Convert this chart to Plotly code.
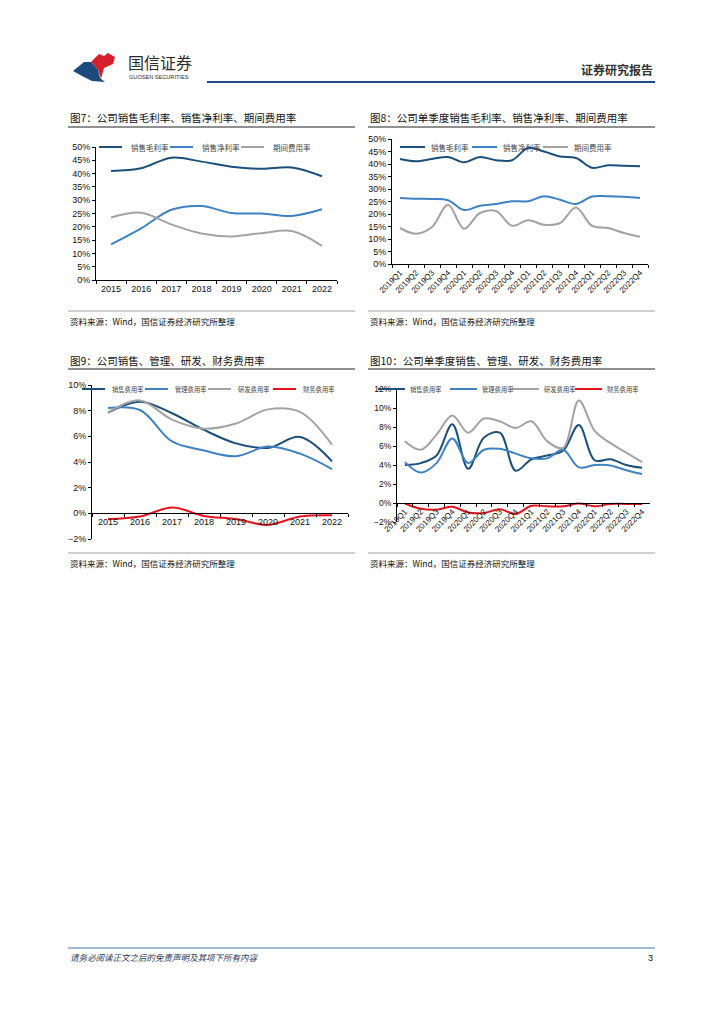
import plotly.graph_objects as go

W, H = 724, 1024
def px(x): return x / W
def py(y): return 1 - y / H

# ---------------- data ----------------
years = ["2015", "2016", "2017", "2018", "2019", "2020", "2021", "2022"]
quarters = ["2019Q1", "2019Q2", "2019Q3", "2019Q4", "2020Q1", "2020Q2", "2020Q3", "2020Q4",
            "2021Q1", "2021Q2", "2021Q3", "2021Q4", "2022Q1", "2022Q2", "2022Q3", "2022Q4"]

# Fig 7 (annual, %)
gross_margin_y = [41.0, 42.0, 46.0, 44.5, 42.6, 41.8, 42.3, 39.0]
net_margin_y = [13.4, 19.4, 26.4, 27.8, 25.2, 25.0, 24.1, 26.6]
expense_rate_y = [23.5, 25.3, 20.9, 17.5, 16.4, 17.6, 18.4, 12.8]

# Fig 8 (quarterly, %)
gross_margin_q = [42.0, 41.1, 42.0, 42.8, 40.7, 42.8, 41.5, 41.5,
                  46.4, 45.0, 43.0, 42.4, 38.5, 39.5, 39.3, 39.1]
net_margin_q = [26.4, 26.1, 26.0, 25.5, 21.6, 23.3, 24.0, 25.1,
                25.1, 27.1, 25.7, 24.0, 27.0, 27.1, 26.9, 26.4]
expense_rate_q = [14.4, 12.1, 14.8, 23.7, 14.1, 20.4, 21.2, 15.3,
                  17.5, 15.7, 16.4, 22.6, 15.3, 14.4, 12.4, 10.9]

# Fig 9 (annual, %)
selling_y = [7.85, 8.7, 7.8, 6.5, 5.45, 5.1, 5.95, 4.05]
admin_y = [8.2, 8.05, 5.6, 4.9, 4.45, 5.2, 4.65, 3.45]
rnd_y = [7.85, 8.8, 7.3, 6.6, 7.0, 8.1, 7.9, 5.35]
finance_y = [-0.45, -0.25, 0.45, -0.2, -0.45, -0.9, -0.25, -0.15]

# Fig 10 (quarterly, %)
selling_q = [4.0, 4.2, 5.0, 8.3, 3.6, 6.9, 7.4, 3.4, 4.6, 5.0, 5.5, 8.2, 4.5, 4.6, 4.0, 3.7]
admin_q = [4.3, 3.2, 4.2, 6.8, 4.2, 5.6, 5.7, 5.2, 4.7, 4.7, 5.6, 3.75, 4.0, 3.95, 3.45, 3.05]
rnd_q = [6.5, 5.6, 7.2, 9.2, 7.4, 8.9, 8.6, 7.9, 8.6, 6.5, 5.8, 10.8, 7.6, 6.3, 5.3, 4.3]
finance_q = [-0.05, -0.6, -0.7, -0.4, -1.0, -1.05, -0.65, -1.15,
             -0.3, -0.35, -0.35, -0.05, -0.35, -0.1, -0.1, -0.1]

names_a = ["销售毛利率", "销售净利率", "期间费用率"]
names_b = ["销售费用率", "管理费用率", "研发费用率", "财务费用率"]

DARK = "#1b4f7c"
MID = "#3f82c4"
GRAY = "#a3a3a3"
RED = "#e3141e"
colors_a = [DARK, MID, GRAY]
colors_b = [DARK, MID, GRAY, RED]

CJK = "Noto Sans CJK SC"
LAT = "Liberation Sans"

fig = go.Figure()

def add(x, y, name, color, xa, ya):
    fig.add_trace(go.Scatter(x=x, y=y, name=name, mode="lines",
                             line=dict(color=color, width=2, shape="spline", smoothing=1),
                             xaxis=xa, yaxis=ya, showlegend=False, hoverinfo="skip"))

for s, n, c in zip([gross_margin_y, net_margin_y, expense_rate_y], names_a, colors_a):
    add(years, s, n, c, "x", "y")
for s, n, c in zip([gross_margin_q, net_margin_q, expense_rate_q], names_a, colors_a):
    add(quarters, s, n, c, "x2", "y2")
for s, n, c in zip([selling_y, admin_y, rnd_y, finance_y], names_b, colors_b):
    add(years, s, n, c, "x3", "y3")
for s, n, c in zip([selling_q, admin_q, rnd_q, finance_q], names_b, colors_b):
    add(quarters, s, n, c, "x4", "y4")

def xax(x0, x1, n, anchor, position=None, angle=0, fs=9):
    d = dict(domain=[px(x0), px(x1)], type="category", range=[-0.5, n - 0.5],
             showline=True, linecolor="#000", linewidth=1, ticks="outside", ticklen=3,
             tickcolor="#000", tickson="boundaries", automargin=False,
             tickfont=dict(family=LAT, size=fs, color="#111"), showgrid=False,
             zeroline=False, tickangle=angle, fixedrange=True)
    if position is None:
        d["anchor"] = anchor
    else:
        d["anchor"] = "free"
        d["position"] = position
    return d

def yax(ytop, ybot, r, dtick, anchor, fs=9):
    return dict(domain=[py(ybot), py(ytop)], range=r, dtick=dtick, ticksuffix="%",
                showline=True, linecolor="#000", linewidth=1, ticks="outside", ticklen=3,
                tickcolor="#000", tickfont=dict(family=LAT, size=fs, color="#111"),
                showgrid=False, zeroline=False, anchor=anchor, fixedrange=True,
                automargin=False)

fig.update_layout(
    width=W, height=H, margin=dict(l=0, r=0, t=0, b=0, pad=0, autoexpand=False),
    paper_bgcolor="white", plot_bgcolor="white", showlegend=False,
    xaxis=xax(96, 337, 8, "y"),
    yaxis=yax(147, 280, [0, 50], 5, "x"),
    xaxis2=xax(392, 648, 16, "y2", angle=-45, fs=8),
    yaxis2=yax(139, 264, [0, 50], 5, "x2"),
    xaxis3=xax(92, 348, 8, None, position=py(513)),
    yaxis3=yax(385, 539, [-2, 10], 2, "x3"),
    xaxis4=xax(397, 650, 16, None, position=py(503), angle=-45, fs=8),
    yaxis4=yax(389, 522, [-2, 12], 2, "x4", fs=8.5),
)

ann = []
shapes = []
def text(x, y, s, size=10.5, color="#111", family=CJK, xanchor="left", yanchor="middle"):
    ann.append(dict(x=px(x), y=py(y), xref="paper", yref="paper", text=s, showarrow=False,
                    xanchor=xanchor, yanchor=yanchor, font=dict(family=family, size=size, color=color)))

def hline(x0, x1, y, color="#000", w=1):
    shapes.append(dict(type="line", xref="paper", yref="paper", x0=px(x0), x1=px(x1),
                       y0=py(y), y1=py(y), line=dict(color=color, width=w)))

# legends (symbol line + label)
def legend(starts, y, linelen, gap, names, colors, fs):
    for x0, n, c in zip(starts, names, colors):
        hline(x0, x0 + linelen, y, c, 2)
        text(x0 + linelen + gap, y, n, size=fs, color="#444")

legend([99, 170, 241], 147, 23, 7, names_a, colors_a, 7.5)
legend([400, 472, 543], 147, 25, 4, names_a, colors_a, 7.5)
legend([82, 145, 208, 273], 389, 23, 5, names_b, colors_b, 6.3)
legend([378, 450, 512, 575], 389, 27, 3, names_b, colors_b, 6.3)

text(68, 117, "图7：公司销售毛利率、销售净利率、期间费用率")
text(368, 117, "图8：公司单季度销售毛利率、销售净利率、期间费用率")
text(68, 360, "图9：公司销售、管理、研发、财务费用率")
text(368, 360, "图10：公司单季度销售、管理、研发、财务费用率")
src = "资料来源：Wind，国信证券经济研究所整理"
for x, y in [(68, 321), (368, 321), (68, 563), (368, 563)]:
    text(x, y, src, size=8.5)

# header
text(126, 62, "国信证券", size=16, color="#2b2b2b")
text(127, 77, "GUOSEN SECURITIES", size=5.6, color="#2b2b2b", family=LAT)
text(655, 69, "<b>证券研究报告</b>", size=12, color="#333", xanchor="right")
# footer
text(68, 957, "<i>请务必阅读正文之后的免责声明及其项下所有内容</i>", size=8.5, color="#1f3a60")
text(655, 958, "3", size=9, color="#111", family=LAT, xanchor="right")

hline(68, 355, 127, "#222", 1.2)
hline(368, 655, 127, "#222", 1.2)
hline(68, 355, 369, "#222", 1.2)
hline(368, 655, 369, "#222", 1.2)
hline(68, 355, 311, "#888", 0.8)
hline(368, 655, 311, "#888", 0.8)
hline(68, 355, 553, "#888", 0.8)
hline(368, 655, 553, "#888", 0.8)
hline(207, 655, 82, "#1d4f82", 2.2)
hline(68, 655, 948, "#4a74a8", 1)

def path(pts, color):
    d = "M " + " L ".join(f"{px(a):.5f},{py(b):.5f}" for a, b in pts) + " Z"
    shapes.append(dict(type="path", xref="paper", yref="paper", path=d,
                       fillcolor=color, line=dict(width=0)))

path([(91, 62), (99, 54), (104, 56), (108, 53), (115, 57), (113, 64), (104, 68), (101, 79), (98, 70)], "#d6202c")
path([(73, 71), (84, 62), (91, 62), (98, 70), (100, 78), (105, 82), (92, 81), (82, 76)], "#1d4a7e")

fig.update_layout(annotations=ann, shapes=shapes)

fig.write_html("out.html", config={"displayModeBar": False, "staticPlot": True},
               post_script=(
    "document.documentElement.style.margin='0';document.body.style.margin='0';"
    "document.body.style.padding='0';document.documentElement.style.overflow='hidden';"
    "document.body.style.overflow='hidden';"))
